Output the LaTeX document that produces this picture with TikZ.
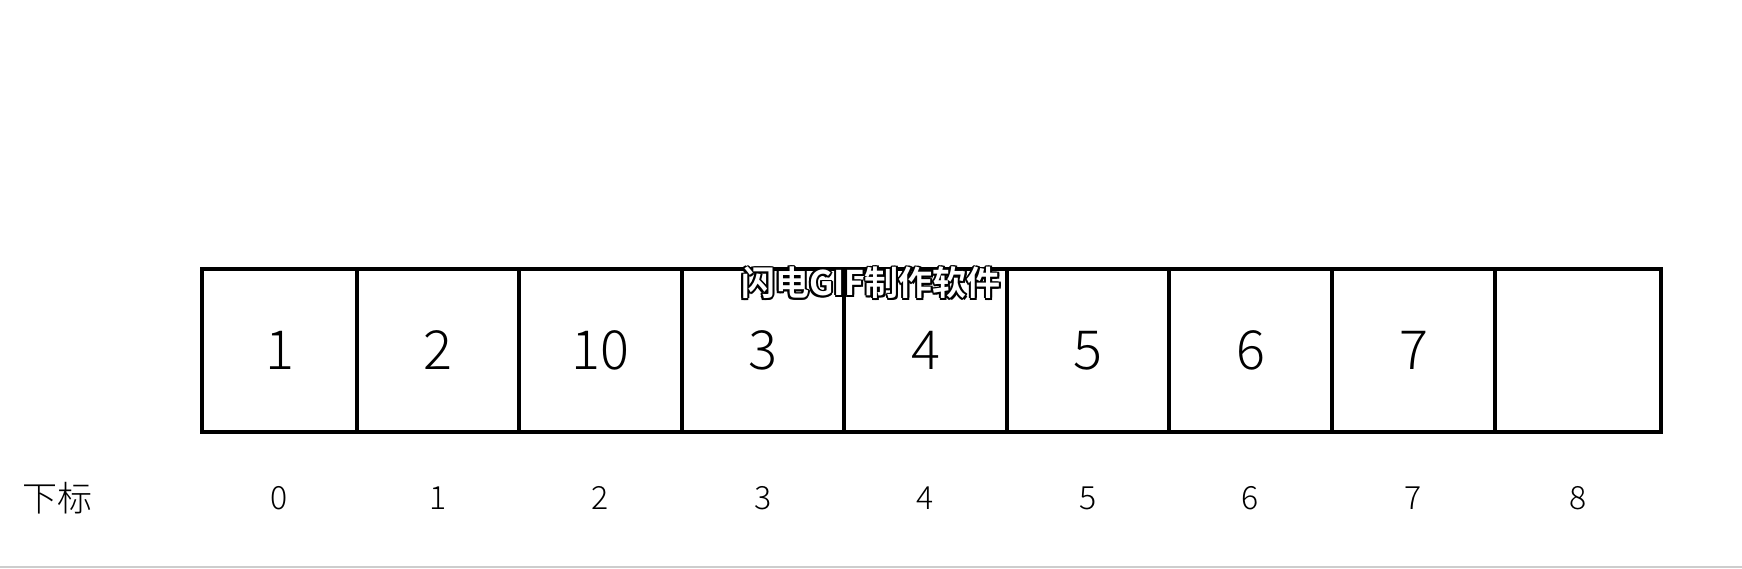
\documentclass[tikz,border=0pt]{standalone}
\usepackage{fontspec}
\usetikzlibrary{calc}
\setmainfont{Noto Sans CJK SC}[UprightFont=* Light]
\newfontfamily\wmfont{Noto Sans CJK SC}[BoldFont=* Bold]
\begin{document}
\begin{tikzpicture}[x=1pt,y=-1pt,
  cellbox/.style={draw=black,line width=4.6pt,inner sep=0pt,minimum height=163pt,font=\fontsize{54}{60}\selectfont},
  idx/.style={inner sep=0pt,font=\fontsize{32}{36}\selectfont}]
\useasboundingbox (0,0) rectangle (1742,568);
\fill[white] (0,0) rectangle (1742,568);
\def\xs{{202,357,519,682,844,1007,1169,1332,1495,1661}}
\foreach \v [count=\i from 0] in {1,2,10,3,4,5,6,7,{}}{
  \pgfmathsetmacro{\xa}{\xs[\i]}
  \pgfmathsetmacro{\xb}{\xs[\i+1]}
  \pgfmathsetmacro{\xc}{(\xa+\xb)/2}
  \pgfmathsetmacro{\w}{\xb-\xa}
  \node[cellbox,minimum width=\w pt] (c\i) at (\xc,350.5) {\v};
  \node[idx] (i\i) at (\xc,498) {\i};
}
\node[inner sep=0pt,font=\fontsize{35}{40}\selectfont] (lbl) at (58,498) {下标};
\foreach \a in {0,45,...,315}{
  \node[inner sep=0pt,font=\wmfont\bfseries\fontsize{34}{40}\selectfont,text=black] at ($(871,283)+(\a:1.8)$) {闪电GIF制作软件};
}
\node[inner sep=0pt,font=\wmfont\bfseries\fontsize{34}{40}\selectfont,text=white] (wm) at (871,283) {闪电GIF制作软件};
\coordinate (gl) at (0,567);
\coordinate (gr) at (1742,567);
\draw[line width=2pt,color={rgb,255:red,205;green,205;blue,205}] (gl) -- (gr);
\end{tikzpicture}
\end{document}
